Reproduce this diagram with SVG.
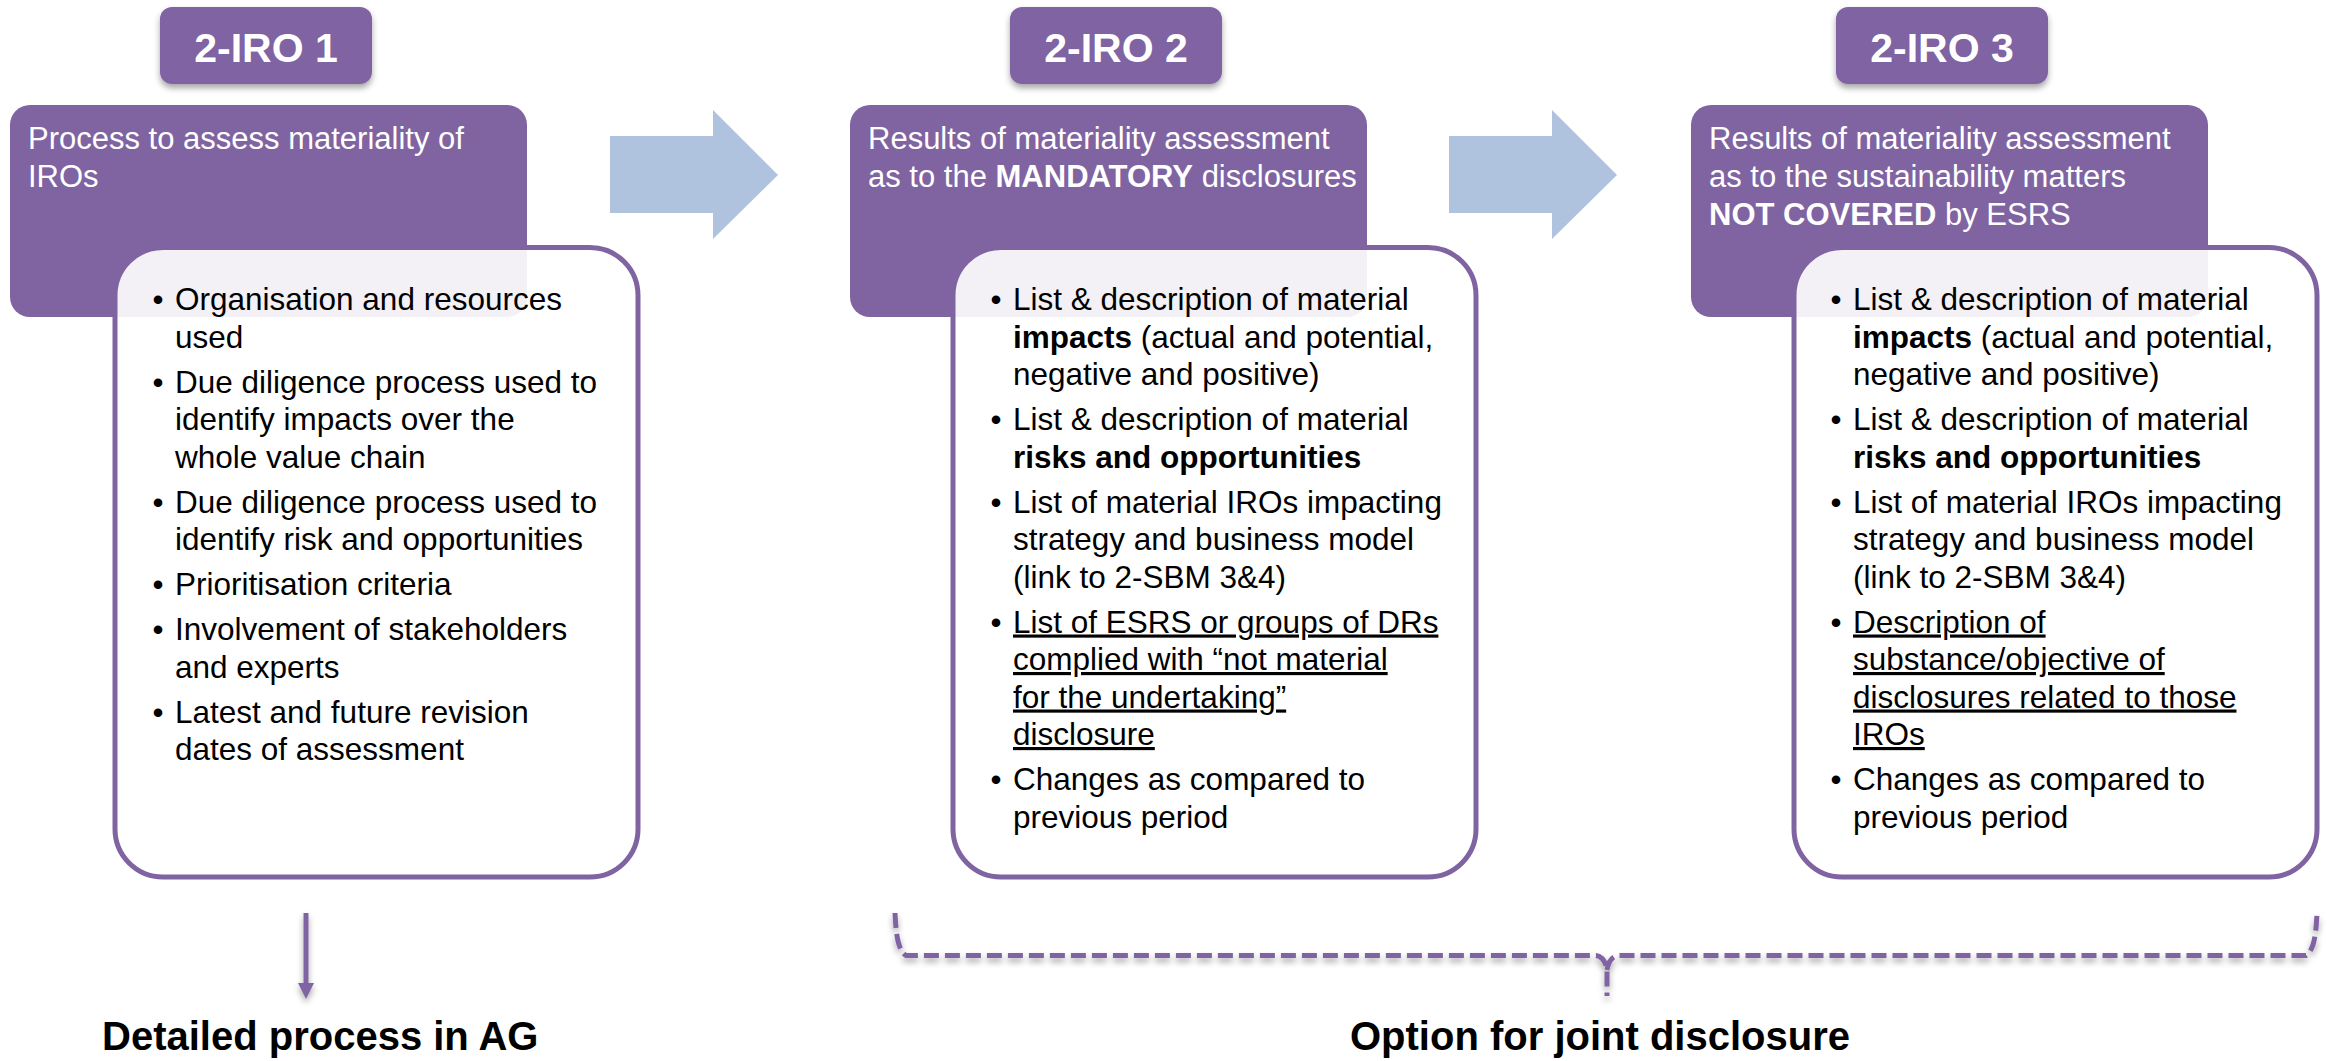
<svg xmlns="http://www.w3.org/2000/svg" width="2331" height="1061" viewBox="0 0 2331 1061">
<defs>
<style>
.lbl{fill:#8064A2}
.hdr{fill:#8064A2}
.box{fill:#ffffff;fill-opacity:0.9;stroke:#8064A2;stroke-width:5}
.barrow{fill:#B0C3DE}
text{font-family:"Liberation Sans",Arial,sans-serif}
.lt{fill:#ffffff;font-weight:bold;font-size:41px;text-anchor:middle}
.ht{fill:#ffffff;font-size:31px}
.bt{fill:#000000;font-size:31.5px}
.bl{fill:#000000;font-size:31.5px;text-anchor:middle}
.b{font-weight:bold}
.u{text-decoration:underline}
.ft{font-size:40px;font-weight:bold;fill:#000000}
.conn{fill:none;stroke:#8064A2;stroke-width:5}
.brace{fill:none;stroke:#8064A2;stroke-width:5;stroke-dasharray:15 6}
</style>
<filter id="sh" x="-20%" y="-20%" width="140%" height="170%">
<feDropShadow dx="0" dy="4" stdDeviation="3" flood-color="#000000" flood-opacity="0.35"/>
</filter>
<filter id="shu" filterUnits="userSpaceOnUse" x="0" y="0" width="2331" height="1061">
<feDropShadow dx="0" dy="4" stdDeviation="3" flood-color="#000000" flood-opacity="0.35"/>
</filter>
<marker id="ah" markerUnits="userSpaceOnUse" viewBox="0 0 16 16" markerWidth="16" markerHeight="16" refX="0" refY="8" orient="auto">
<path d="M0,0 L16,8 L0,16 Z" fill="#8064A2"/>
</marker>
</defs>
<rect width="2331" height="1061" fill="#ffffff"/>

<g id="node-iro1">
<rect class="lbl" x="160" y="7" width="212" height="77" rx="12" filter="url(#sh)"/>
<text class="lt" x="266" y="62">2-IRO 1</text>
<rect class="hdr" x="10" y="105" width="517" height="212" rx="20"/>
<text class="ht" x="28" y="149">Process to assess materiality of</text>
<text class="ht" x="28" y="187">IROs</text>
<rect class="box" x="115" y="247.5" width="523" height="629.5" rx="48"/>
<g>
<text class="bl" x="158" y="310">•</text><text class="bt" x="175" y="310">Organisation and resources</text>
<text class="bt" x="175" y="347.5">used</text>
<text class="bl" x="158" y="392.5">•</text><text class="bt" x="175" y="392.5">Due diligence process used to</text>
<text class="bt" x="175" y="430">identify impacts over the</text>
<text class="bt" x="175" y="467.5">whole value chain</text>
<text class="bl" x="158" y="512.5">•</text><text class="bt" x="175" y="512.5">Due diligence process used to</text>
<text class="bt" x="175" y="550">identify risk and opportunities</text>
<text class="bl" x="158" y="595">•</text><text class="bt" x="175" y="595">Prioritisation criteria</text>
<text class="bl" x="158" y="640">•</text><text class="bt" x="175" y="640">Involvement of stakeholders</text>
<text class="bt" x="175" y="677.5">and experts</text>
<text class="bl" x="158" y="722.5">•</text><text class="bt" x="175" y="722.5">Latest and future revision</text>
<text class="bt" x="175" y="760">dates of assessment</text>
</g>
</g>

<g id="node-iro2">
<rect class="lbl" x="1010" y="7" width="212" height="77" rx="12" filter="url(#sh)"/>
<text class="lt" x="1116" y="62">2-IRO 2</text>
<rect class="hdr" x="850" y="105" width="517" height="212" rx="20"/>
<text class="ht" x="868" y="149">Results of materiality assessment</text>
<text class="ht" x="868" y="187">as to the <tspan class="b">MANDATORY</tspan> disclosures</text>
<rect class="box" x="953" y="247.5" width="523" height="629.5" rx="48"/>
<g>
<text class="bl" x="996" y="310">•</text><text class="bt" x="1013" y="310">List &amp; description of material</text>
<text class="bt" x="1013" y="347.5"><tspan class="b">impacts</tspan> (actual and potential,</text>
<text class="bt" x="1013" y="385">negative and positive)</text>
<text class="bl" x="996" y="430">•</text><text class="bt" x="1013" y="430">List &amp; description of material</text>
<text class="bt b" x="1013" y="467.5">risks and opportunities</text>
<text class="bl" x="996" y="512.5">•</text><text class="bt" x="1013" y="512.5">List of material IROs impacting</text>
<text class="bt" x="1013" y="550">strategy and business model</text>
<text class="bt" x="1013" y="587.5">(link to 2-SBM 3&amp;4)</text>
<text class="bl" x="996" y="632.5">•</text><text class="bt u" x="1013" y="632.5">List of ESRS or groups of DRs</text>
<text class="bt u" x="1013" y="670">complied with “not material</text>
<text class="bt u" x="1013" y="707.5">for the undertaking”</text>
<text class="bt u" x="1013" y="745">disclosure</text>
<text class="bl" x="996" y="790">•</text><text class="bt" x="1013" y="790">Changes as compared to</text>
<text class="bt" x="1013" y="827.5">previous period</text>
</g>
</g>

<g id="node-iro3">
<rect class="lbl" x="1836" y="7" width="212" height="77" rx="12" filter="url(#sh)"/>
<text class="lt" x="1942" y="62">2-IRO 3</text>
<rect class="hdr" x="1691" y="105" width="517" height="212" rx="20"/>
<text class="ht" x="1709" y="149">Results of materiality assessment</text>
<text class="ht" x="1709" y="187">as to the sustainability matters</text>
<text class="ht" x="1709" y="225"><tspan class="b">NOT COVERED</tspan> by ESRS</text>
<rect class="box" x="1794" y="247.5" width="523" height="629.5" rx="48"/>
<g>
<text class="bl" x="1836" y="310">•</text><text class="bt" x="1853" y="310">List &amp; description of material</text>
<text class="bt" x="1853" y="347.5"><tspan class="b">impacts</tspan> (actual and potential,</text>
<text class="bt" x="1853" y="385">negative and positive)</text>
<text class="bl" x="1836" y="430">•</text><text class="bt" x="1853" y="430">List &amp; description of material</text>
<text class="bt b" x="1853" y="467.5">risks and opportunities</text>
<text class="bl" x="1836" y="512.5">•</text><text class="bt" x="1853" y="512.5">List of material IROs impacting</text>
<text class="bt" x="1853" y="550">strategy and business model</text>
<text class="bt" x="1853" y="587.5">(link to 2-SBM 3&amp;4)</text>
<text class="bl" x="1836" y="632.5">•</text><text class="bt u" x="1853" y="632.5">Description of</text>
<text class="bt u" x="1853" y="670">substance/objective of</text>
<text class="bt u" x="1853" y="707.5">disclosures related to those</text>
<text class="bt u" x="1853" y="745">IROs</text>
<text class="bl" x="1836" y="790">•</text><text class="bt" x="1853" y="790">Changes as compared to</text>
<text class="bt" x="1853" y="827.5">previous period</text>
</g>
</g>

<g id="node-detailed">
<text class="ft" x="102" y="1050">Detailed process in AG</text>
</g>
<g id="node-joint">
<text class="ft" x="1600" y="1050" text-anchor="middle">Option for joint disclosure</text>
</g>

<g id="connectors">
<path class="barrow" d="M610,136 H713 V110 L778,175 L713,239 V213 H610 Z"/>
<path class="barrow" d="M1449,136 H1552 V110 L1617,175 L1552,239 V213 H1449 Z"/>
<line class="conn" x1="306" y1="913" x2="306" y2="983" marker-end="url(#ah)" filter="url(#shu)"/>
<path class="brace" filter="url(#shu)" d="M895,913 C896,935 898,950 906,955.5 L1596,955.5 Q1605,957 1607,970 L1607,996 M1607,970 Q1609,957 1618,955.5 L2306,955.5 C2314,950 2316,935 2317,913"/>
</g>
</svg>
